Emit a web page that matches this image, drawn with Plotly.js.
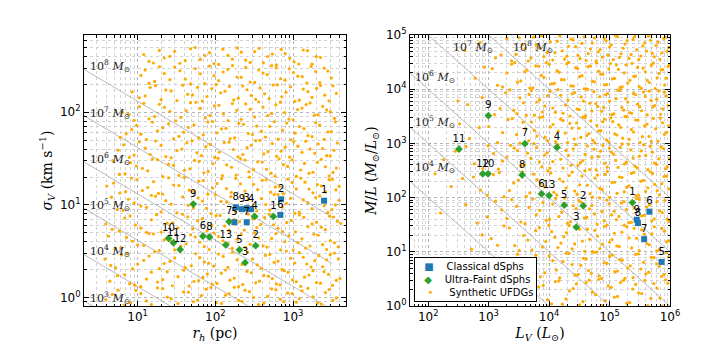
<!DOCTYPE html>
<html>
<head>
<meta charset="utf-8">
<script src="https://cdn.plot.ly/plotly-3.0.1.min.js"></script>
<style>
  html, body { margin: 0; padding: 0; background: #fff; }
  #plot { width: 706px; height: 353px; }
</style>
</head>
<body>
<div id="plot"></div>
<script>
// classical dSphs (blue squares)
const classicalIds = ['1', '2', '3', '4', '5', '6', '7', '8', '9']
const classicalRh = [2500, 700, 253, 288, 176, 685, 253, 183, 220]
const classicalSigma = [11.1, 11.5, 9.2, 9.0, 6.5, 7.8, 6.5, 9.4, 9.0]
const classicalLv = [2.1e7, 2.0e7, 5.5e6, 2.3e6, 7.26e5, 4.57e5, 3.73e5, 2.95e5, 2.82e5]
const classicalML = [8.5, 2.7, 2.3, 5.9, 6.5, 55, 17.1, 33.8, 39]

// ultra-faint dSphs (green diamonds)
const ufdIds = ['1', '2', '3', '4', '5', '6', '7', '8', '9', '10', '11', '12', '13']
const ufdRh = [557, 330, 241, 320, 204, 69, 150, 84, 52, 24.9, 28.8, 35.2, 136]
const ufdSigma = [7.5, 3.63, 2.38, 7.5, 3.27, 4.6, 6.6, 4.5, 10.2, 4.36, 3.9, 3.3, 3.7]
const ufdLv = [2.39e5, 3.68e4, 2.82e4, 1.35e4, 1.78e4, 7480, 3980, 3580, 990, 977, 323, 798, 1.0e4]
const ufdML = [81, 70.5, 28.5, 843, 72.6, 117, 987, 261, 3250, 275, 787, 275, 109]

// synthetic UFDGs, left panel (r_h in pc, sigma in km/s)
const synthRh = [
    3.9, 5.6, 8.1, 11, 15, 21, 27, 39, 52, 66, 88, 120, 150, 200, 240, 310, 420, 530, 680, 850, 1100, 1300, 1800, 2300, 2900, 3600,
    4.4, 6.8, 9.2, 13, 18, 24, 33, 46, 61, 79, 105, 135, 175, 225, 290, 370, 480, 610, 760, 980, 1250, 1600, 2000, 2500, 3200, 4000,
    3.8, 5.2, 7.4, 10, 14, 19, 26, 35, 49, 63, 82, 110, 145, 190, 260, 345, 440, 570, 720, 930, 1200, 1500, 1900, 2400, 3000, 3800,
    4.2, 6.1, 8.6, 12, 16, 22, 30, 42, 55, 72, 96, 125, 165, 215, 280, 360, 460, 600, 780, 1000, 1300, 1650, 2100, 2700, 3400,
    3.9, 5.8, 8.0, 11, 15, 20, 28, 38, 51, 68, 90, 115, 150, 205, 265, 340, 430, 560, 730, 950, 1200, 1550, 2000, 2600, 3300, 4100,
    4.6, 6.5, 9.0, 13, 17, 23, 32, 45, 60, 77, 100, 140, 180, 230, 300, 390, 500, 640, 820, 1050, 1350, 1750, 2200, 2800, 3500,
    4.0, 5.9, 8.3, 11.5, 16, 21, 29, 40, 53, 70, 92, 120, 160, 210, 275, 350, 450, 590, 750, 970, 1250, 1600, 2050, 2600, 3200, 3900,
    4.8, 6.9, 9.6, 13.5, 18, 25, 34, 47, 62, 81, 108, 140, 185, 240, 310, 400, 520, 660, 850, 1100, 1400, 1800, 2300, 2900, 3600,
    5.6, 7.8, 10.5, 14.5, 20, 27, 37, 50, 66, 86, 112, 150, 195, 255, 330, 420, 540, 700, 900, 1150, 1450, 1900, 2400, 3000, 3700,
    6.0, 8.4, 11, 15.5, 21, 29, 39, 53, 70, 92, 120, 155, 200, 265, 340, 440, 570, 730, 940, 1200, 1550, 1950, 2500, 3100,
    6.4, 9.0, 12, 16.5, 22, 31, 42, 56, 74, 97, 127, 165, 215, 280, 360, 470, 600, 780, 1000, 1300, 1650, 2100, 2700, 3400,
    8.5, 12.5, 17, 23, 32, 44, 59, 78, 102, 133, 172, 225, 290, 375, 490, 630, 810, 1050, 1350, 1750, 2250, 2900, 3600,
    11, 14, 19, 26, 35, 48, 64, 84, 110, 145, 190, 245, 320, 410, 530, 690, 890, 1150, 1500, 1950, 2500, 3100,
    12, 16, 22, 30, 41, 55, 73, 96, 125, 165, 215, 280, 365, 470, 610, 790, 1030, 1350, 1750, 2250,
    4.7, 6.7, 9.5, 13, 18, 24, 33, 45, 59, 76, 103, 135, 175, 220, 275, 360, 470, 600, 760, 970, 1200, 1550, 2050, 2600, 3250,
    5.5, 7.9, 11, 15, 21, 28, 39, 53, 69, 91, 119, 154, 199, 255, 330, 420, 540, 680, 860, 1100, 1400, 1800, 2250, 2850, 3600,
    4.5, 6.2, 8.6, 12, 16.5, 22, 30, 41, 56, 72, 95, 126, 166, 220, 300, 390, 500, 640, 820, 1050, 1350, 1700, 2150, 2700, 3400,
    5.1, 7.2, 10, 14, 19, 26, 36, 48, 63, 83, 110, 145, 190, 245, 320, 410, 530, 690, 880, 1150, 1450, 1850, 2400, 3000, 3800,
    4.7, 6.8, 9.4, 13, 17.5, 24, 33, 44, 59, 78, 102, 132, 175, 235, 300, 385, 490, 640, 830, 1070, 1370, 1750, 2300, 2950, 3700,
    5.5, 7.6, 11, 15, 20, 27, 38, 52, 68, 88, 118, 158, 205, 265, 340, 445, 570, 725, 930, 1200, 1550, 1950, 2500, 3150, 3900,
    4.9, 7.0, 9.8, 13.5, 18.5, 25, 34, 46, 61, 80, 105, 139, 183, 240, 310, 400, 515, 665, 850, 1100, 1420, 1800, 2300, 2900, 3550,
    5.8, 8.1, 11.5, 15.5, 21, 29, 40, 54, 71, 93, 123, 161, 210, 270, 350, 455, 585, 750, 970, 1250, 1600, 2050, 2600, 3250,
    6.6, 9.0, 12.5, 17, 23, 32, 43, 58, 75, 98, 130, 170, 225, 290, 375, 475, 615, 790, 1020, 1300, 1650, 2100, 2700, 3350,
    7.1, 9.7, 13, 18, 25, 34, 45, 61, 80, 105, 137, 177, 230, 300, 390, 500, 645, 830, 1060, 1380, 1750, 2200, 2800, 3500,
    7.6, 10.5, 14, 19, 26, 36, 48, 64, 85, 111, 145, 188, 245, 320, 410, 530, 685, 880, 1140, 1470, 1880, 2400, 3000,
    10.5, 14.5, 20, 27, 38, 51, 68, 90, 117, 152, 197, 255, 330, 430, 555, 715, 925, 1200, 1550, 2000, 2550, 3250,
    12.5, 16.5, 22, 30, 41, 55, 73, 96, 126, 166, 215, 280, 360, 465, 605, 785, 1010, 1310, 1700, 2200, 2800,
    14, 19, 26, 35, 48, 64, 84, 110, 145, 190, 245, 320, 415, 540, 700, 905, 1180, 1530, 1980
]
const synthSigma = [
    0.95, 1.2, 0.88, 1.1, 0.84, 1.25, 0.97, 1.15, 0.9, 1.05, 1.28, 0.86, 1.1, 0.93, 1.2, 1.0, 0.87, 1.24, 0.96, 1.12, 0.89, 1.18, 1.02, 0.85, 1.22, 0.99,
    1.5, 1.77, 1.36, 1.58, 1.47, 1.9, 1.68, 1.33, 1.52, 1.8, 1.42, 1.98, 1.62, 1.38, 1.85, 1.5, 1.7, 1.4, 1.95, 1.55, 1.32, 1.75, 1.45, 1.9, 1.35, 1.6,
    2.6, 2.1, 3.0, 2.3, 2.8, 2.05, 2.45, 3.15, 2.2, 2.7, 2.35, 2.95, 2.12, 2.55, 3.1, 2.25, 2.85, 2.4, 2.02, 2.65, 3.05, 2.3, 2.5, 2.15, 2.9, 2.6,
    4.6, 3.45, 4.05, 3.65, 4.85, 4.2, 3.28, 3.8, 4.5, 3.55, 4.95, 4.1, 3.4, 4.8, 3.75, 4.4, 3.5, 4.9, 4.0, 3.25, 4.3, 3.6, 4.7, 3.3, 3.9,
    6.2, 5.2, 7.6, 5.6, 6.9, 5.1, 6.4, 7.9, 5.5, 7.1, 6.0, 7.7, 5.3, 6.6, 7.95, 5.7, 7.3, 6.1, 5.15, 6.8, 7.8, 5.8, 6.5, 5.4, 7.4, 6.3,
    12.1, 8.7, 10.5, 9.4, 12.4, 11.1, 8.2, 9.9, 11.9, 9.2, 12.8, 10.7, 8.5, 12.6, 9.6, 11.7, 8.8, 12.9, 10.4, 8.1, 11.3, 9.1, 12.5, 8.3, 10,
    16, 13.4, 19.5, 14.3, 17.8, 13.1, 16.4, 19.8, 14, 18.3, 15.2, 19.2, 13.6, 16.9, 19.9, 14.6, 18.6, 15.6, 13.2, 17.4, 19.4, 14.8, 16.6, 13.8, 18.9, 15.9,
    30, 21.6, 26.3, 23.3, 30.8, 27.5, 20.8, 24.5, 29.5, 23, 31.8, 27, 21, 30.5, 24, 29, 22, 31.5, 26, 20.3, 28, 22.5, 31, 20.5, 25,
    39, 32.5, 48, 35, 44, 32.2, 40, 49, 34, 45, 37, 47.5, 33, 41.5, 49.5, 35.5, 46, 38, 32.8, 43, 48.5, 36, 40.5, 33.8, 46.5,
    53.5, 65, 58, 78, 68, 51.5, 61, 73, 57, 79.5, 66, 52, 76, 59, 71, 54, 79, 64, 50.5, 70, 56, 77, 51, 62,
    100, 82, 125, 90, 113, 81, 104, 128, 87, 117, 96, 124, 84, 108, 129, 92, 120, 99, 83, 111, 126, 94, 106, 86,
    166, 150, 194, 174, 134, 156, 186, 148, 199, 169, 136, 192, 152, 183, 140, 198, 164, 131, 178, 145, 195, 133, 160,
    250, 205, 310, 225, 280, 202, 260, 315, 220, 290, 240, 305, 210, 265, 318, 230, 295, 245, 207, 275, 300, 235,
    420, 340, 385, 455, 360, 500, 410, 335, 480, 375, 445, 345, 490, 400, 325, 430, 350, 470, 330, 390,
    1.08, 0.83, 1.19, 0.92, 1.27, 1.01, 0.86, 1.14, 0.94, 1.23, 0.88, 1.06, 1.29, 0.91, 1.16, 0.84, 1.03, 1.21, 0.9, 1.1, 0.97, 1.26, 0.87, 1.13, 0.93,
    1.72, 1.41, 1.31, 1.88, 1.56, 1.34, 1.97, 1.49, 1.65, 1.39, 1.83, 1.54, 1.31, 1.92, 1.44, 1.73, 1.6, 1.37, 1.87, 1.48, 1.66, 1.95, 1.43, 1.78, 1.53,
    2.22, 2.88, 2.04, 2.52, 3.12, 2.33, 2.68, 2.1, 2.97, 2.42, 2.18, 2.78, 3.08, 2.28, 2.6, 2.07, 2.92, 2.47, 3.18, 2.36, 2.72, 2.13, 2.83, 2.55, 3.02,
    3.35, 4.45, 3.7, 4.9, 3.22, 4.15, 3.58, 4.75, 3.95, 3.3, 4.55, 3.85, 4.25, 3.48, 4.98, 3.62, 4.35, 3.27, 4.65, 3.92, 3.42, 4.82, 3.72, 4.12, 3.52,
    5.45, 7.2, 6.05, 5.05, 7.85, 6.35, 5.65, 7.45, 6.75, 5.25, 7.65, 5.9, 6.95, 5.35, 7.05, 6.15, 7.92, 5.58, 6.45, 5.12, 7.35, 6.25, 5.75, 7.55, 6.65,
    8.9, 11.5, 9.7, 12.7, 8.4, 10.2, 12.2, 9.3, 11.0, 8.05, 10.9, 12.3, 9.0, 11.4, 8.6, 10.1, 12.95, 9.5, 11.8, 8.35, 10.6, 12.0, 9.8, 8.9, 11.2,
    17.2, 13.9, 18.8, 15.4, 13.3, 19.6, 16.2, 14.4, 18.0, 13.05, 17.0, 15.0, 19.3, 14.1, 16.7, 18.4, 13.7, 15.8, 19.0, 14.9, 17.6, 13.5, 16.0, 18.7, 14.5,
    21.3, 28.5, 24.8, 31.2, 20.2, 26.7, 23.6, 30.2, 22.2, 27.8, 20.7, 25.5, 31.6, 22.8, 29.2, 24.2, 20.4, 27.2, 30.6, 23.8, 21.9, 28.8, 25.8, 22.4,
    44.5, 34.5, 41, 48.8, 33.2, 38.5, 46.8, 36.5, 42.5, 32.4, 47, 39.5, 35, 44, 49.8, 37.5, 33.5, 42, 48, 36.8, 40, 45.5, 34, 38.8,
    58.5, 72, 50.8, 63, 75, 55, 68.5, 52.8, 78.5, 60, 67, 53, 74, 57.5, 62.5, 70.5, 51.2, 76.5, 59.5, 66.5, 54.5, 72.5, 61.5, 78.8,
    95, 115, 85, 122, 102, 88, 127, 110, 92, 119, 81.5, 105, 123, 89, 114, 97, 128.5, 84.5, 107, 121, 93, 116, 101,
    143, 185, 137, 170, 196, 154, 132, 180, 162, 190, 142, 175, 138, 158, 197, 147, 188, 135, 167, 181, 153, 193,
    285, 215, 262, 308, 228, 296, 204, 248, 272, 319, 238, 212, 286, 255, 303, 222, 268, 243, 312, 209, 278,
    355, 465, 402, 338, 485, 372, 440, 328, 412, 495, 365, 452, 342, 425, 478, 383, 332, 462, 398
]

// synthetic UFDGs, right panel (L_V in L_sun, M/L in solar units)
const synthLv = [
    400, 1300, 2000, 2800, 3600, 4500, 5500, 6800, 8200, 10500, 12500, 15000, 18000, 21000, 25000, 30000, 35000, 41000, 48000, 56000,
    65000, 76000, 88000, 1e5, 1.15e5, 1.35e5, 1.55e5, 1.8e5, 2.1e5, 2.45e5, 2.8e5, 3.3e5, 3.8e5, 4.4e5, 5.1e5, 5.9e5, 6.8e5, 7.9e5, 9e5,
    600, 1150, 1700, 2400, 3000, 3900, 4800, 6000, 7400, 9000, 11000, 13500, 16000, 19500, 23000, 27500, 32000, 38000, 44000, 52000,
    61000, 71000, 83000, 97000, 1.12e5, 1.3e5, 1.5e5, 1.75e5, 2e5, 2.35e5, 2.7e5, 3.1e5, 3.6e5, 4.2e5, 4.9e5, 5.7e5, 6.6e5, 7.6e5, 8.7e5, 9.8e5,
    450, 1250, 1900, 2600, 3300, 4200, 5100, 6300, 7700, 9400, 11500, 14000, 17000, 20500, 24000, 29000, 34000, 40000, 47000, 55000,
    64000, 74000, 86000, 1e5, 1.18e5, 1.38e5, 1.6e5, 1.85e5, 2.15e5, 2.5e5, 2.9e5, 3.4e5, 3.9e5, 4.5e5, 5.2e5, 6e5, 7e5, 8.1e5, 9.3e5, 310,
    330, 700, 1400, 2100, 2900, 3700, 4600, 5700, 7000, 8600, 10500, 12800, 15500, 18500, 22000, 26000, 31000, 36000, 42000, 49000,
    57000, 66000, 77000, 90000, 1.05e5, 1.22e5, 1.42e5, 1.65e5, 1.95e5, 2.3e5, 2.7e5, 3.2e5, 3.8e5, 4.5e5, 5.3e5, 6.3e5, 7.5e5, 8.8e5,
    180, 420, 800, 1200, 1700, 2300, 3000, 3900, 5000, 6200, 7600, 9300, 11500, 14000, 17000, 21000, 25000, 30000, 36000, 43000,
    51000, 60000, 71000, 84000, 99000, 1.17e5, 1.38e5, 1.62e5, 1.9e5, 2.25e5, 2.65e5, 3.1e5, 3.65e5, 4.3e5, 5.1e5, 6e5, 7.1e5, 8.4e5, 9.7e5,
    240, 560, 950, 1500, 2200, 3100, 4200, 5500, 7200, 9500, 12000, 15000, 19000, 24000, 29000, 35000, 43000, 52000, 63000, 76000,
    92000, 1.1e5, 1.33e5, 1.6e5, 1.92e5, 2.3e5, 2.75e5, 3.3e5, 3.95e5, 4.7e5, 5.6e5, 6.7e5, 8e5, 9.5e5, 130,
    160, 650, 1300, 2000, 2900, 4000, 5400, 7000, 9000, 11500, 14500, 18000, 22500, 28000, 34000, 42000, 51000, 62000, 75000, 90000,
    1.08e5, 1.3e5, 1.57e5, 1.9e5, 2.3e5, 2.8e5, 3.4e5, 4.1e5, 5e5, 6.1e5, 7.4e5, 9e5,
    520, 1100, 1800, 2700, 3800, 5200, 6900, 8800, 11000, 14000, 17500, 21500, 26500, 32000, 39000, 47000, 57000, 69000, 83000, 1e5,
    1.2e5, 1.45e5, 1.75e5, 2.1e5, 2.55e5, 3.1e5, 3.75e5, 4.55e5, 5.5e5, 6.7e5, 8.1e5, 9.6e5,
    3000, 6000, 8500, 11500, 15000, 19000, 24000, 30000, 37000, 45000, 55000, 67000, 82000, 1e5, 1.22e5, 1.48e5, 1.8e5, 2.2e5, 2.7e5, 3.3e5,
    4e5, 4.9e5, 6e5, 7.3e5, 8.8e5,
    5600, 8000, 11000, 14500, 19000, 25000, 32000, 41000, 52000, 66000, 84000, 1.07e5, 1.35e5, 1.7e5, 2.15e5, 2.7e5, 3.4e5, 4.3e5, 5.4e5, 6.8e5, 8.5e5,
    720, 1600, 2400, 3200, 4000, 5000, 6100, 7500, 9300, 11500, 13700, 16500, 19500, 23000, 27500, 32500, 38000, 44500, 52000, 60000,
    70000, 82000, 94000, 1.07e5, 1.25e5, 1.45e5, 1.68e5, 1.95e5, 2.27e5, 2.62e5, 3.05e5, 3.55e5, 4.1e5, 4.75e5, 5.5e5, 6.35e5, 7.35e5, 8.4e5, 9.5e5,
    850, 1400, 2000, 2700, 3400, 4300, 5400, 6700, 8200, 10000, 12200, 14700, 17700, 21200, 25200, 29700, 35000, 41000, 48000, 56500,
    66000, 77000, 90000, 1.04e5, 1.21e5, 1.4e5, 1.62e5, 1.87e5, 2.17e5, 2.52e5, 2.9e5, 3.35e5, 3.9e5, 4.55e5, 5.3e5, 6.15e5, 7.1e5, 8.15e5, 9.3e5,
    780, 1550, 2250, 2950, 3750, 4650, 5700, 7000, 8500, 10400, 12700, 15500, 18700, 22200, 26500, 31500, 37000, 43500, 51000, 59500,
    69000, 80000, 93000, 1.09e5, 1.28e5, 1.49e5, 1.72e5, 2e5, 2.32e5, 2.7e5, 3.15e5, 3.65e5, 4.2e5, 4.85e5, 5.6e5, 6.5e5, 7.55e5, 8.7e5,
    480, 1000, 1700, 2450, 3300, 4100, 5100, 6300, 7800, 9500, 11600, 14100, 17000, 20200, 24000, 28500, 33500, 39000, 45500, 53000,
    61500, 71500, 83000, 97000, 1.13e5, 1.32e5, 1.53e5, 1.8e5, 2.12e5, 2.5e5, 2.95e5, 3.5e5, 4.15e5, 4.9e5, 5.8e5, 6.9e5, 8.1e5, 9.5e5,
    280, 580, 980, 1450, 2000, 2650, 3450, 4400, 5600, 6900, 8400, 10300, 12700, 15500, 19000, 23000, 27500, 33000, 39500, 47000,
    55500, 65500, 77500, 91500, 1.08e5, 1.27e5, 1.5e5, 1.76e5, 2.07e5, 2.45e5, 2.87e5, 3.37e5, 3.97e5, 4.7e5, 5.55e5, 6.55e5, 7.75e5, 9.0e5,
    370, 730, 1200, 1800, 2600, 3600, 4800, 6300, 8300, 10700, 13400, 17000, 21500, 26500, 32000, 39000, 47500, 57500, 69500, 84000,
    1.01e5, 1.21e5, 1.46e5, 1.75e5, 2.1e5, 2.52e5, 3.02e5, 3.62e5, 4.3e5, 5.15e5, 6.15e5, 7.3e5, 8.7e5,
    420, 950, 1650, 2400, 3400, 4650, 6100, 7900, 10200, 12900, 16200, 20100, 25000, 31000, 38000, 46500, 56500, 68500, 82000, 99000,
    1.19e5, 1.43e5, 1.73e5, 2.1e5, 2.55e5, 3.1e5, 3.75e5, 4.55e5, 5.5e5, 6.7e5, 8.2e5, 9.6e5,
    780, 1400, 2200, 3200, 4450, 6000, 7800, 9900, 12400, 15700, 19400, 24000, 29000, 35500, 43000, 52000, 63000, 76000, 91000, 1.1e5,
    1.32e5, 1.6e5, 1.92e5, 2.32e5, 2.8e5, 3.4e5, 4.15e5, 5e5, 6.05e5, 7.35e5, 8.8e5,
    4500, 7200, 10000, 13200, 17000, 21500, 27000, 33500, 41000, 50000, 61000, 74000, 91000, 1.11e5, 1.35e5, 1.63e5, 2e5, 2.45e5, 3e5, 3.65e5,
    4.45e5, 5.45e5, 6.65e5, 8.0e5, 9.4e5,
    6700, 9400, 12700, 16600, 21800, 28300, 36200, 46200, 58600, 74500, 95000, 1.2e5, 1.52e5, 1.92e5, 2.42e5, 3.03e5, 3.82e5, 4.82e5, 6.05e5, 7.6e5, 9.2e5
]
const synthML = [
    5.2e4, 3.8e4, 8.5e4, 4.4e4, 6.7e4, 3.3e4, 9.1e4, 5.8e4, 4.0e4, 7.5e4, 4.7e4, 9.6e4, 3.6e4, 6.2e4, 8.1e4, 4.2e4, 7.0e4, 3.4e4, 5.5e4, 8.8e4,
    4.9e4, 3.9e4, 7.8e4, 6.0e4, 3.5e4, 9.3e4, 4.5e4, 6.8e4, 3.7e4, 8.3e4, 5.3e4, 4.1e4, 7.2e4, 9.5e4, 4.6e4, 6.4e4, 3.55e4, 8.6e4, 5.0e4,
    1.6e4, 2.4e4, 1.1e4, 2.9e4, 1.35e4, 2.1e4, 1.05e4, 2.7e4, 1.8e4, 3.1e4, 1.25e4, 2.2e4, 1.5e4, 2.95e4, 1.15e4, 2.5e4, 1.7e4, 1.02e4, 2.6e4, 1.4e4,
    3.05e4, 1.9e4, 1.2e4, 2.35e4, 1.55e4, 2.8e4, 1.08e4, 2.0e4, 1.3e4, 3.0e4, 1.75e4, 1.12e4, 2.45e4, 1.45e4, 2.75e4, 1.03e4, 1.95e4, 2.3e4, 1.6e4, 2.85e4,
    5200, 3400, 8600, 4100, 6900, 3300, 9400, 5800, 3800, 7600, 4500, 9800, 3600, 6300, 8200, 4300, 7200, 3250, 5500, 9000,
    4800, 3900, 7900, 6000, 3500, 9600, 4600, 6700, 3700, 8400, 5300, 4000, 7400, 9200, 4700, 6500, 3450, 8800, 5000, 6100,
    2300, 1950, 1030, 2750, 1450, 2450, 1120, 1750, 3000, 1300, 2000, 1080, 2800, 1550, 2350, 1200, 1900, 3050, 1400, 2600,
    1020, 1700, 2500, 1150, 2950, 1500, 2200, 1250, 3100, 1800, 2700, 1050, 2100, 1350, 2900, 1100, 2400, 1600,
    500, 880, 345, 650, 470, 920, 740, 400, 530, 840, 370, 670, 460, 960, 350, 600, 790, 390, 480, 900,
    550, 325, 720, 430, 820, 630, 360, 980, 450, 760, 380, 580, 940, 330, 690, 410, 860, 340, 520,
    160, 240, 110, 290, 135, 210, 105, 270, 180, 310, 125, 220, 150, 295, 115, 250, 170, 102, 260, 140,
    305, 190, 120, 235, 155, 280, 108, 200, 130, 300, 175, 112, 245, 145, 275,
    52, 34, 86, 41, 69, 33, 94, 58, 38, 76, 45, 98, 36, 63, 82, 43, 72, 32.5, 55, 90,
    48, 39, 79, 60, 35, 96, 46, 67, 37, 84, 53, 40,
    11.2, 17.5, 30, 13, 20, 10.8, 28, 15.5, 23.5, 12, 19, 30.5, 14, 26, 10.2, 17, 25, 11.5, 29.5, 15,
    22, 12.5, 31, 18, 27, 10.5, 21, 13.5, 29, 11, 24, 16,
    9, 8.6, 4.1, 6.9, 3.3, 9.4, 5.8, 3.8, 7.6, 4.5, 9.8, 3.6, 6.3, 8.2, 4.3, 7.2, 3.25, 5.5, 9, 4.8,
    3.9, 7.9, 6, 3.5, 9.6,
    1.6, 2.4, 1.1, 2.9, 1.35, 2.1, 1.05, 2.7, 1.8, 3.1, 1.25, 2.2, 1.5, 2.95, 1.15, 2.5, 1.7, 1.02, 2.6, 1.4, 3.05,
    7.3e4, 4.3e4, 3.35e4, 8.9e4, 5.6e4, 3.75e4, 6.5e4, 9.7e4, 4.8e4, 3.45e4, 7.7e4, 5.1e4, 4.05e4, 8.4e4, 6.1e4, 3.65e4, 9.2e4, 4.55e4, 7.1e4, 3.3e4,
    5.4e4, 8.7e4, 4.25e4, 6.6e4, 9.9e4, 3.85e4, 5.7e4, 7.9e4, 4.35e4, 9.4e4, 3.5e4, 6.3e4, 5.05e4, 8.0e4, 3.95e4, 7.4e4, 4.65e4, 9.0e4, 5.9e4,
    2.55e4, 1.18e4, 1.98e4, 3.08e4, 1.42e4, 2.25e4, 1.06e4, 2.65e4, 1.65e4, 2.9e4, 1.28e4, 2.05e4, 1.5e4, 3.12e4, 1.14e4, 2.4e4, 1.78e4, 1.01e4, 2.7e4, 1.37e4,
    2.15e4, 1.88e4, 1.22e4, 2.98e4, 1.58e4, 2.32e4, 1.1e4, 2.82e4, 1.46e4, 1.72e4, 2.52e4, 1.04e4, 2.1e4, 1.33e4, 3.02e4, 1.62e4, 2.28e4, 1.19e4, 2.62e4,
    7000, 4400, 9700, 3550, 5600, 8000, 3300, 6400, 4900, 9100, 3750, 7700, 5100, 3200, 8700, 4200, 6000, 9900, 3950, 5400,
    7300, 4600, 8300, 3400, 6700, 9500, 4100, 5800, 3600, 7900, 4750, 8900, 3350, 6200, 5000, 9300, 4350, 7500,
    1230, 2050, 1580, 2870, 1010, 1840, 2480, 1370, 3080, 1120, 2230, 1660, 2640, 1040, 1920, 2380, 1290, 2980, 1510, 1140,
    2150, 1720, 2790, 1060, 2530, 1430, 1980, 3140, 1190, 1620, 2690, 1330, 2260, 1090, 1860, 2920, 1470, 2110,
    720, 420, 905, 335, 560, 815, 385, 660, 990, 455, 610, 350, 870, 510, 745, 395, 950, 440, 625, 330,
    780, 570, 910, 365, 690, 485, 845, 415, 975, 540, 355, 725, 600, 890, 435, 520, 805, 375,
    225, 138, 265, 104, 185, 300, 122, 215, 158, 285, 112, 198, 255, 132, 172, 312, 118, 230, 148, 268,
    101, 192, 240, 128, 165, 292, 110, 208, 152, 278, 134, 181, 248,
    74, 44, 59, 92, 35.5, 66, 48, 81, 39.5, 97, 54, 33.5, 71, 88, 42, 62, 50, 99, 37.5, 77,
    56, 45, 84, 34.5, 65, 93, 47, 73, 40.5, 57, 89, 36.5,
    20.5, 13.2, 27.5, 10.6, 16.5, 24.5, 12.2, 30.8, 18.5, 14.5, 22.5, 11.3, 28.5, 15.8, 26.2, 10.1, 19.5, 13.8, 31.2, 16.8,
    12.8, 23, 29, 11.8, 17.8, 25.5, 14.2, 21.5, 10.4, 27, 15.2,
    5.2, 3.45, 8.4, 4.6, 6.6, 9.3, 3.7, 5.6, 7.4, 4.0, 9.9, 3.2, 6.1, 8.7, 4.4, 7.0, 5.0, 3.35, 9.1, 6.4,
    4.2, 7.8, 5.4, 3.8, 8.1,
    2.25, 1.3, 2.8, 1.08, 1.9, 2.55, 1.2, 3.0, 1.62, 1.02, 2.35, 1.45, 2.7, 1.12, 2.05, 1.75, 2.98, 1.38, 2.15, 1.0, 2.62
]

// lines of constant dynamical mass, M = 580 r_h sigma^2
const massCoef = 580
const leftMasses = [1e3, 1e4, 1e5, 1e6, 1e7, 1e8]
const rightMasses = [1e4, 1e5, 1e6, 1e7, 1e8]
const rightLabelSpots = [[55, 370], [55, 2500], [55, 1.7e4], [240, 6.1e4], [2300, 6.1e4]]

const BLUE = '#1f77b4'
const GREEN = '#2ca02c'
const ORANGE = '#ffaa00'
const SERIF = 'DejaVu Serif, Liberation Serif, serif'
const SANS = 'DejaVu Sans, Liberation Sans, sans-serif'
const LV_MAX = 1e6

function sigmaAt(m, r) {
    return Math.sqrt(m / (massCoef * r))
}

function massText(m) {
    return '10<sup>' + Math.round(Math.log10(m)) + '</sup> <i>M</i><sub>⊙</sub>'
}

const traces = []
const annotations = []

leftMasses.forEach(function (m) {
    const rr = [1, Math.pow(10, 3.5)]
    traces.push({
        x: rr, y: rr.map(function (r) { return sigmaAt(m, r) }),
        xaxis: 'x', yaxis: 'y', mode: 'lines',
        line: { color: '#a8a8a8', width: 0.8 }, hoverinfo: 'skip', showlegend: false
    })
    annotations.push({
        xref: 'x', yref: 'y', x: Math.log10(2.3), y: Math.log10(sigmaAt(m, 2.04) * 1.08),
        text: massText(m), showarrow: false, xanchor: 'left', yanchor: 'middle',
        font: { family: SERIF, size: 11, color: '#222' }
    })
})

rightMasses.forEach(function (m, i) {
    const ll = [10, LV_MAX]
    traces.push({
        x: ll, y: ll.map(function (l) { return m / l }),
        xaxis: 'x2', yaxis: 'y2', mode: 'lines',
        line: { color: '#a8a8a8', width: 0.8 }, hoverinfo: 'skip', showlegend: false
    })
    annotations.push({
        xref: 'x2', yref: 'y2', x: Math.log10(rightLabelSpots[i][0]), y: Math.log10(rightLabelSpots[i][1]),
        text: massText(m), showarrow: false, xanchor: 'left', yanchor: 'middle',
        font: { family: SERIF, size: 11, color: '#222' }
    })
})

const synthMarker = { color: ORANGE, size: 3.2, line: { width: 0 } }
traces.push({ x: synthRh, y: synthSigma, xaxis: 'x', yaxis: 'y', mode: 'markers', marker: synthMarker, name: 'Synthetic UFDGs' })
traces.push({ x: synthLv, y: synthML, xaxis: 'x2', yaxis: 'y2', mode: 'markers', marker: synthMarker, name: 'Synthetic UFDGs' })

// the brightest classical dSphs sit beyond the right panel's L_V range, so they are left out there
const inRange = classicalLv.map(function (l, i) { return l <= LV_MAX ? i : -1 }).filter(function (i) { return i >= 0 })

const labelFont = { family: SANS, size: 10, color: '#000' }
const squareMarker = { color: BLUE, symbol: 'square', size: 6, line: { width: 0 } }
const diamondMarker = { color: GREEN, symbol: 'diamond', size: 6, line: { width: 0 } }

traces.push({
    x: classicalRh, y: classicalSigma, text: classicalIds, xaxis: 'x', yaxis: 'y',
    mode: 'markers+text', textposition: 'top center', textfont: labelFont, marker: squareMarker, name: 'Classical dSphs'
})
traces.push({
    x: inRange.map(function (i) { return classicalLv[i] }),
    y: inRange.map(function (i) { return classicalML[i] }),
    text: inRange.map(function (i) { return classicalIds[i] }),
    xaxis: 'x2', yaxis: 'y2',
    mode: 'markers+text', textposition: 'top center', textfont: labelFont, marker: squareMarker, name: 'Classical dSphs'
})
traces.push({
    x: ufdRh, y: ufdSigma, text: ufdIds, xaxis: 'x', yaxis: 'y',
    mode: 'markers+text', textposition: 'top center', textfont: labelFont, marker: diamondMarker, name: 'Ultra-Faint dSphs'
})
traces.push({
    x: ufdLv, y: ufdML, text: ufdIds, xaxis: 'x2', yaxis: 'y2',
    mode: 'markers+text', textposition: 'top center', textfont: labelFont, marker: diamondMarker, name: 'Ultra-Faint dSphs'
})

// legend box drawn as one annotation so its rows stay as tight as the original
const gap = '\u00a0\u00a0\u00a0\u00a0'
annotations.push({
    xref: 'paper', yref: 'paper', x: 413.5 / 706, y: 1 - 256.5 / 353, xanchor: 'left', yanchor: 'top',
    showarrow: false, align: 'left', bgcolor: '#fff', bordercolor: '#000', borderwidth: 1, borderpad: 3,
    font: { family: SANS, size: 10, color: '#000' },
    text: '\u00a0\u00a0<span style="color:' + BLUE + '">■</span>' + gap + 'Classical dSphs<br>' +
          '\u00a0\u00a0<span style="color:' + GREEN + '">◆</span>' + gap + 'Ultra-Faint dSphs<br>' +
          '\u00a0\u00a0\u00a0<span style="color:' + ORANGE + '">•</span>' + gap + '\u00a0Synthetic UFDGs'
})

function decadeMinors(lo, hi) {
    const vals = []
    for (let p = lo; p <= hi; p++) {
        for (let d = 2; d <= 9; d++) vals.push(d * Math.pow(10, p))
    }
    return vals
}

function logAxis(domain, range, anchor, powers, minorLo, minorHi, title, standoff) {
    return {
        type: 'log', domain: domain, range: range, anchor: anchor, automargin: false,
        tickmode: 'array',
        tickvals: powers.map(function (p) { return Math.pow(10, p) }),
        ticktext: powers.map(function (p) { return '10<sup>' + p + '</sup>' }),
        ticks: 'inside', ticklen: 5, tickwidth: 1, tickcolor: '#000',
        showline: true, linecolor: '#000', linewidth: 1, mirror: 'allticks',
        showgrid: true, gridcolor: '#b4b4b4', griddash: 'dot', gridwidth: 1,
        minor: {
            tickmode: 'array', tickvals: decadeMinors(minorLo, minorHi),
            ticks: 'inside', ticklen: 2.5, tickcolor: '#000',
            showgrid: true, gridcolor: '#d2d2d2', griddash: 'dot', gridwidth: 1
        },
        zeroline: false,
        tickfont: { family: SANS, size: 12, color: '#000' },
        title: { text: title, font: { family: SERIF, size: 14, color: '#000' }, standoff: standoff }
    }
}

const yDomain = [1 - 306 / 353, 1 - 35 / 353]
const layout = {
    width: 706, height: 353,
    margin: { l: 0, r: 0, t: 0, b: 0 },
    paper_bgcolor: '#fff', plot_bgcolor: '#fff',
    showlegend: false,
    xaxis: logAxis([84 / 706, 346 / 706], [0.31, 3.68], 'y', [1, 2, 3], 0, 3,
        '<i>r</i><sub><i>h</i></sub> (pc)', 4),
    yaxis: logAxis(yDomain, [Math.log10(0.81), 2.834], 'x', [0, 1, 2], -1, 2,
        '<i>σ</i><sub><i>V</i></sub> (km s<sup>−1</sup>)', 4),
    xaxis2: logAxis([410 / 706, 670 / 706], [Math.log10(50), 6], 'y2', [2, 3, 4, 5, 6], 1, 5,
        '<i>L</i><sub><i>V</i></sub> (<i>L</i><sub>⊙</sub>)', 4),
    yaxis2: logAxis(yDomain, [0, 5], 'x2', [0, 1, 2, 3, 4, 5], 0, 4,
        '<i>M</i>/<i>L</i> (<i>M</i><sub>⊙</sub>/<i>L</i><sub>⊙</sub>)', 6),
    annotations: annotations
}

Plotly.newPlot('plot', traces, layout, { displayModeBar: false, staticPlot: true })
</script>
</body>
</html>
